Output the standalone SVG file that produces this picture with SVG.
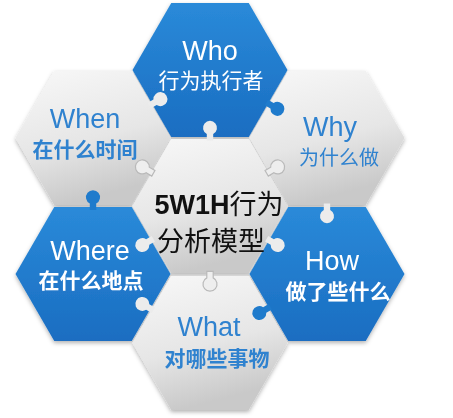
<svg xmlns="http://www.w3.org/2000/svg" xmlns:xlink="http://www.w3.org/1999/xlink" width="453" height="418" viewBox="0 0 453 418">
<style>
.en{font-family:"Liberation Sans","Noto Sans",sans-serif;font-size:27px;text-anchor:middle}
.zh{font-family:"Noto Sans CJK SC","Noto Sans",sans-serif;font-size:21px;text-anchor:middle}
.w{fill:#ffffff}
.b{fill:#2f82cf}
.blue{fill:url(#gb)}
.grey{fill:url(#gg)}
.kb{fill:#1f7bcc}
.kg{fill:#eeeeee;stroke:#b9b9b9;stroke-width:1.2}
.kg2{fill:#ececec}
.ct{font-family:"Noto Sans CJK SC",sans-serif;font-size:27px;text-anchor:middle;fill:#111}
</style>
<defs>
<linearGradient id="gb" x1="0" y1="0" x2="0" y2="1">
<stop offset="0" stop-color="#2a8ad9"/>
<stop offset="1" stop-color="#1a6dc1"/>
</linearGradient>
<linearGradient id="gg" x1="0" y1="0" x2="0.3" y2="1">
<stop offset="0" stop-color="#f8f8f8"/>
<stop offset="0.6" stop-color="#e6e6e6"/>
<stop offset="1" stop-color="#c9c9c9"/>
</linearGradient>
<polygon id="hex" points="-77.5,0 -38.75,-67.1 38.75,-67.1 77.5,0 38.75,67.1 -38.75,67.1"/>
<path id="knob" d="M-3.2,-3 L3.2,-3 L3.2,3.5 A7,7 0 1 1 -3.2,3.5 Z"/>
<filter id="sh" x="-10%" y="-10%" width="120%" height="125%">
<feDropShadow dx="0" dy="2" stdDeviation="2" flood-color="#000" flood-opacity="0.3"/>
</filter>
</defs>

<g id="hexes" filter="url(#sh)">
<g id="when"><use xlink:href="#hex" class="grey" transform="translate(93,138)"/></g>
<g id="why"><use xlink:href="#hex" class="grey" transform="translate(327,138)"/></g>
<g id="who"><use xlink:href="#hex" class="blue" transform="translate(210,70)"/></g>
<g id="center"><use xlink:href="#hex" class="grey" transform="translate(210,206)"/></g>
<g id="where"><use xlink:href="#hex" class="blue" transform="translate(93,274)"/></g>
<g id="how"><use xlink:href="#hex" class="blue" transform="translate(327,274)"/></g>
<g id="what"><use xlink:href="#hex" class="grey" transform="translate(210,343)"/></g>
</g>

<g id="connectors">
<use xlink:href="#knob" class="kg2" transform="translate(152,104) rotate(-120)"/>
<use xlink:href="#knob" class="kg2" transform="translate(210,137.6) rotate(180)"/>
<use xlink:href="#knob" class="kb" transform="translate(269,104) rotate(-60)"/>
<use xlink:href="#knob" class="kb" transform="translate(93,207) rotate(180)"/>
<use xlink:href="#knob" class="kg" transform="translate(150.75,171.8) rotate(120)"/>
<use xlink:href="#knob" class="kg" transform="translate(269.25,171.8) rotate(-120)"/>
<use xlink:href="#knob" class="kg2" transform="translate(327,206.4)"/>
<use xlink:href="#knob" class="kg2" transform="translate(150.75,240.2) rotate(60)"/>
<use xlink:href="#knob" class="kg2" transform="translate(269.25,240.2) rotate(-60)"/>
<use xlink:href="#knob" class="kg" transform="translate(210,274.4)"/>
<use xlink:href="#knob" class="kg2" transform="translate(150.75,308.8) rotate(120)"/>
<use xlink:href="#knob" class="kb" transform="translate(267.75,308.2) rotate(60)"/>
</g>

<g id="labels">
<text class="en w" x="210" y="60">Who</text>
<text class="zh w" x="211" y="88">行为执行者</text>
<text class="en b" x="85" y="128">When</text>
<text class="zh b" x="85" y="157" font-weight="bold">在什么时间</text>
<text class="en b" x="330" y="136">Why</text>
<text class="zh b" x="339" y="165" style="font-size:20px">为什么做</text>
<text class="ct" x="219" y="214"><tspan font-weight="bold" style="font-family:'Liberation Sans',sans-serif">5W1H</tspan><tspan>行为</tspan></text>
<text class="ct" x="211" y="251">分析模型</text>
<text class="en w" x="90" y="260">Where</text>
<text class="zh w" x="91" y="288" font-weight="bold">在什么地点</text>
<text class="en w" x="332" y="270">How</text>
<text class="zh w" x="338" y="299" font-weight="bold">做了些什么</text>
<text class="en b" x="209" y="336">What</text>
<text class="zh b" x="217" y="366" font-weight="bold">对哪些事物</text>
</g>
</svg>
